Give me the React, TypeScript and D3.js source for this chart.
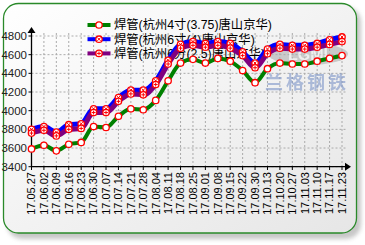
import React from "react";
import * as d3 from "d3";

const dates = ["17.05.27","17.06.02","17.06.09","17.06.16","17.06.23","17.06.30","17.07.07","17.07.14","17.07.21","17.07.28","17.08.04","17.08.11","17.08.18","17.08.25","17.09.01","17.09.08","17.09.15","17.09.22","17.09.30","17.10.13","17.10.20","17.10.27","17.11.03","17.11.10","17.11.17","17.11.23"];
const green = [3590,3630,3570,3640,3660,3830,3820,3940,4020,4010,4110,4320,4510,4550,4510,4560,4530,4430,4300,4450,4510,4500,4500,4530,4560,4590];
const blue = [3800,3830,3770,3850,3860,4020,4020,4140,4220,4220,4320,4540,4710,4740,4720,4740,4720,4630,4510,4660,4710,4700,4700,4720,4760,4790];
const purple = [3760,3790,3730,3800,3810,3980,3980,4100,4180,4170,4280,4500,4670,4700,4680,4700,4670,4590,4460,4610,4670,4660,4660,4680,4710,4740];
const yTicks = [3400,3600,3800,4000,4200,4400,4600,4800];
const seriesNames = ["焊管(杭州4寸(3.75)唐山京华)","焊管(杭州6寸(4)唐山京华)","焊管(杭州6分(2.5)唐山京华)"];
const seriesColors = ["#008000","#0000ff","#800080"];

export default function App() {
  const x = d3.scalePoint<string>().domain(dates).range([31.5, 342]);
  const y = d3.scaleLinear().domain([3400, 4800]).range([166.7, 36]);
  const line = d3.line<number>().x((_, i) => x(dates[i])!).y(d => y(d)).curve(d3.curveMonotoneX);
  const series = [
    { data: green, color: seriesColors[0], w: 4, mark: "none" },
    { data: blue, color: seriesColors[1], w: 5, mark: "x" },
    { data: purple, color: seriesColors[2], w: 5, mark: "plus" },
  ];
  const font = "'Liberation Sans', Arial, 'Noto Sans CJK SC', sans-serif";
  const marker = (cx: number, cy: number, mark: string, key: string) => (
    <g key={key}>
      <circle cx={cx} cy={cy} r={3.2} fill="#fff" stroke="#ff0000" strokeWidth={1.3} />
      {mark === "x" && <path d={`M${cx-1.6},${cy-1.6}L${cx+1.6},${cy+1.6}M${cx+1.6},${cy-1.6}L${cx-1.6},${cy+1.6}`} stroke="#ff0000" strokeWidth={1} />}
      {mark === "plus" && <path d={`M${cx-2},${cy}L${cx+2},${cy}M${cx},${cy-2}L${cx},${cy+2}`} stroke="#ff0000" strokeWidth={1} />}
    </g>
  );
  return (
    <svg width={365} height={245} style={{ position: "absolute", left: 0, top: 0 }}>
      <defs>
        <linearGradient id="bg" x1="0" y1="0" x2="1" y2="1">
          <stop offset="0" stopColor="#ffffff" />
          <stop offset="1" stopColor="#e6e6e6" />
        </linearGradient>
        <filter id="sh" x="-10%" y="-10%" width="130%" height="130%">
          <feGaussianBlur stdDeviation="2" />
        </filter>
      </defs>
      <rect x={7} y={7} width={354} height={232} rx={15} fill="#9a9a9a" opacity={0.55} filter="url(#sh)" />
      <rect x={3.5} y={3.5} width={353} height={229.5} rx={15} fill="url(#bg)" stroke="#2a8a2a" strokeWidth={1.3} />
      {dates.map((d, i) => (
        <line key={"gx" + i} x1={x(d)} x2={x(d)} y1={33} y2={166.7} stroke="#aaaaaa" strokeWidth={1} strokeDasharray="2,2" />
      ))}
      {yTicks.map(t => (
        <line key={"gy" + t} x1={31.5} x2={346} y1={y(t)} y2={y(t)} stroke="#aaaaaa" strokeWidth={1} strokeDasharray="2,2" />
      ))}
      <g opacity={0.6}>
        <ellipse cx={308} cy={54} rx={40} ry={11} fill="#b0b0b0" />
        <text x={308} y={60} textAnchor="middle" fontFamily={font} fontWeight="bold" fontSize={16} fill="#eeeeee">LGMI</text>
        <text x={307} y={89} textAnchor="middle" fontFamily="'Noto Sans CJK SC'" fontWeight="bold" fontSize={18} letterSpacing={3} fill="#7d95c8">兰格钢铁</text>
      </g>
      <line x1={31.5} x2={31.5} y1={166.7} y2={32} stroke="#000" strokeWidth={1.3} />
      <path d="M27.5,33L35.5,33L31.5,27Z" fill="#000" />
      <line x1={31} x2={346} y1={166.7} y2={166.7} stroke="#000" strokeWidth={1.3} />
      <path d="M345,162.7L345,170.7L351,166.7Z" fill="#000" />
      {yTicks.map(t => (
        <g key={"yt" + t}>
          <line x1={28.5} x2={31.5} y1={y(t)} y2={y(t)} stroke="#000" />
          <text x={27} y={y(t)} dy="0.35em" textAnchor="end" fontFamily={font} fontSize={11.5} fill="#222">{t}</text>
        </g>
      ))}
      {dates.map((d, i) => (
        <g key={"xt" + i}>
          <line x1={x(d)} x2={x(d)} y1={166.7} y2={170} stroke="#000" />
          <text transform={`translate(${x(d)},172) rotate(-90)`} dy="0.35em" textAnchor="end" fontFamily={font} fontSize={11} fill="#000">{d}</text>
        </g>
      ))}
      {seriesNames.map((n, i) => (
        <g key={"lg" + i}>
          <line x1={87.5} x2={110.5} y1={25 + i * 14.2} y2={25 + i * 14.2} stroke={seriesColors[i]} strokeWidth={4} />
          {marker(99, 25 + i * 14.2, series[i].mark, "lm" + i)}
          <text x={114} y={25 + i * 14.2} dy="0.36em" fontFamily={font} fontSize={12.3} fill="#000">{n}</text>
        </g>
      ))}
      {series.map((s, si) => (
        <path key={"ln" + si} d={line(s.data)!} fill="none" stroke={s.color} strokeWidth={s.w} strokeLinejoin="round" />
      ))}
      {series.map((s, si) => s.data.map((v, i) => marker(x(dates[i])!, y(v), s.mark, "m" + si + "_" + i)))}
    </svg>
  );
}
